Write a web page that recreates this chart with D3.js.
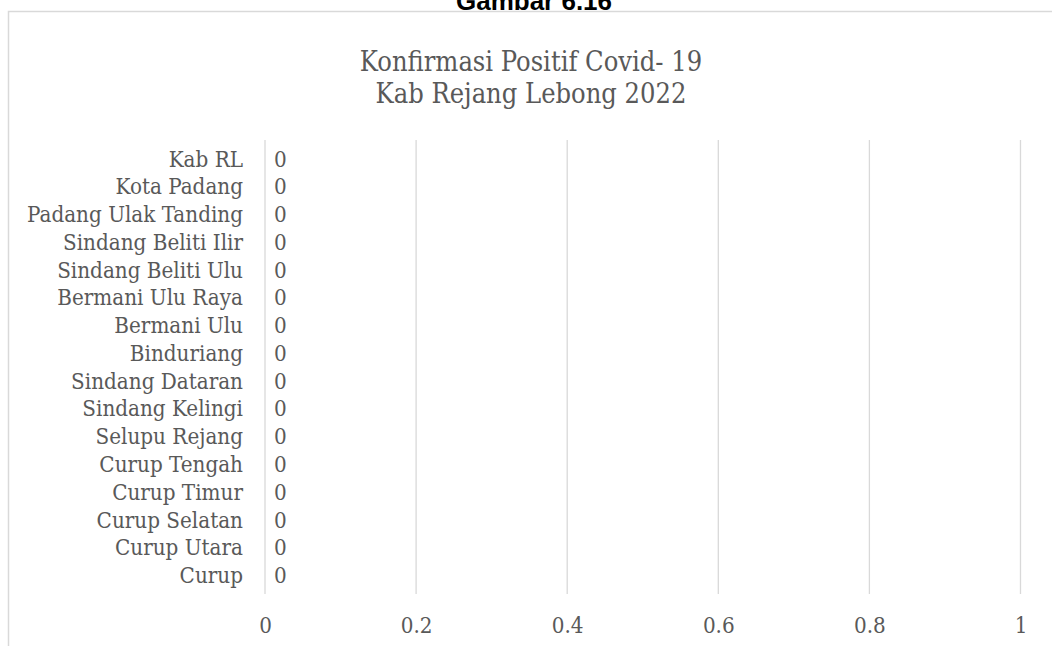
<!DOCTYPE html>
<html>
<head>
<meta charset="utf-8">
<script src="https://cdn.jsdelivr.net/npm/d3@7"></script>
<style>
  html, body { margin: 0; padding: 0; background: #fff; }
  svg { display: block; }
  .ser { font-stretch: semi-condensed; }
</style>
</head>
<body>
<svg id="chart" width="1052" height="646"></svg>
<script>
// ---- data ----
const categories = ["Curup", "Curup Utara", "Curup Selatan", "Curup Timur", "Curup Tengah",
  "Selupu Rejang", "Sindang Kelingi", "Sindang Dataran", "Binduriang", "Bermani Ulu",
  "Bermani Ulu Raya", "Sindang Beliti Ulu", "Sindang Beliti Ilir", "Padang Ulak Tanding",
  "Kota Padang", "Kab RL"];
const values = [0, 0, 0, 0, 0, 0, 0, 0, 0, 0, 0, 0, 0, 0, 0, 0];
const tickValues = [0, 0.2, 0.4, 0.6, 0.8, 1];
const tickLabels = ["0", "0.2", "0.4", "0.6", "0.8", "1"];
const titleLines = ["Konfirmasi Positif Covid- 19", "Kab Rejang Lebong 2022"];
const captionText = "Gambar 6.16";

const svg = d3.select("#chart");
const FONT = "'DejaVu Serif Condensed', 'DejaVu Serif', 'Liberation Serif', serif";
const TEXT = "#595959";
const GRID = "#d9d9d9";

// caption above chart box (cut off at top in the reference)
svg.append("text")
  .attr("x", 534).attr("y", 10)
  .attr("text-anchor", "middle")
  .attr("font-family", "'Liberation Sans', Arial, sans-serif")
  .attr("font-weight", "bold")
  .attr("font-size", 26)
  .attr("fill", "#000")
  .text(captionText);

// chart border
svg.append("rect")
  .attr("x", 8.5).attr("y", 11.5)
  .attr("width", 1100).attr("height", 700)
  .attr("fill", "#fff")
  .attr("stroke", GRID).attr("stroke-width", 1.5);

// fit font size for labels
function fitSize(text, targetW, base) {
  const t = svg.append("text").attr("class", "ser").attr("font-family", FONT).attr("font-size", base).text(text);
  const w = t.node().getComputedTextLength();
  t.remove();
  return base * targetW / w;
}
const labelSize = fitSize("Padang Ulak Tanding", 216, 20);
const titleSize = Math.min(27, fitSize(titleLines[0], 378, 26));

// title
svg.append("g").selectAll("text").data(titleLines).join("text")
  .attr("class", "ser")
  .attr("x", 531)
  .attr("y", (d, i) => 71 + i * 32)
  .attr("text-anchor", "middle")
  .attr("font-family", FONT)
  .attr("font-size", titleSize)
  .attr("fill", TEXT)
  .text(d => d);

// scales
const x = d3.scaleLinear().domain([0, 1]).range([265, 1020.5]);
const y = d3.scaleBand().domain(categories.slice().reverse()).range([140, 594]).padding(0.35);

// gridlines
svg.append("g").selectAll("line").data(tickValues).join("line")
  .attr("x1", d => x(d)).attr("x2", d => x(d))
  .attr("y1", 140).attr("y2", 594)
  .attr("stroke", GRID).attr("stroke-width", 1.3);

// bars (zero width)
svg.append("g").selectAll("rect").data(categories).join("rect")
  .attr("x", x(0))
  .attr("y", d => y(d))
  .attr("width", (d, i) => x(values[i]) - x(0))
  .attr("height", y.bandwidth())
  .attr("fill", "#4472c4");

// category labels
svg.append("g").selectAll("text").data(categories).join("text")
  .attr("class", "ser")
  .attr("x", 243)
  .attr("y", d => y(d) + y.bandwidth() / 2)
  .attr("dy", "0.35em")
  .attr("text-anchor", "end")
  .attr("font-family", FONT)
  .attr("font-size", labelSize)
  .attr("fill", TEXT)
  .text(d => d);

// value labels
svg.append("g").selectAll("text").data(categories).join("text")
  .attr("class", "ser")
  .attr("x", (d, i) => x(values[i]) + 9)
  .attr("y", d => y(d) + y.bandwidth() / 2)
  .attr("dy", "0.35em")
  .attr("text-anchor", "start")
  .attr("font-family", FONT)
  .attr("font-size", labelSize)
  .attr("fill", TEXT)
  .text((d, i) => String(values[i]));

// x axis tick labels
const xAxis = d3.axisBottom(x).tickValues(tickValues)
  .tickFormat((d, i) => tickLabels[i]).tickSize(0).tickPadding(0);
const ax = svg.append("g").attr("transform", "translate(0,617)").call(xAxis);
ax.select(".domain").remove();
ax.selectAll("text")
  .attr("class", "ser")
  .attr("font-family", FONT)
  .attr("font-size", labelSize)
  .attr("fill", TEXT)
  .attr("dy", "0.71em");
</script>
</body>
</html>
